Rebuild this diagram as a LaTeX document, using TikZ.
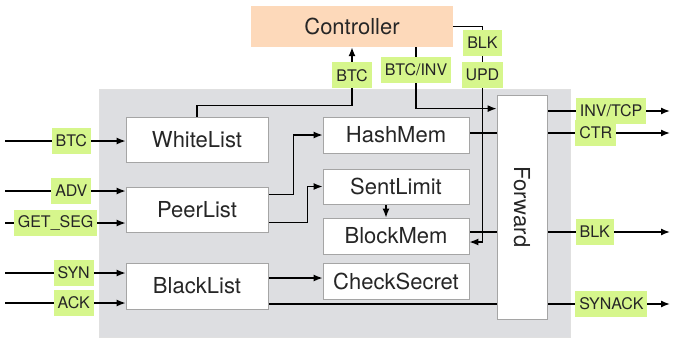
\documentclass[tikz,border=0pt]{standalone}
\usepackage{fontspec}
\setmainfont{TeX Gyre Heros}
\usetikzlibrary{arrows.meta}
\pgfdeclarelayer{background}
\pgfsetlayers{background,main}
\definecolor{panelgray}{RGB}{221,222,225}
\definecolor{boxline}{RGB}{165,165,165}
\definecolor{ctrlfill}{RGB}{253,217,186}
\definecolor{taggreen}{RGB}{214,246,140}
\tikzset{
  block/.style={draw=boxline,fill=white,line width=0.8pt,inner sep=0pt,
    text=black!85,font=\fontsize{22}{25}\selectfont},
  tag/.style={fill=taggreen,inner xsep=4pt,inner ysep=0pt,minimum height=26pt,
    text=black!85,font=\fontsize{16}{18}\selectfont},
  arr/.style={-{Latex[length=9pt,width=7pt]},line width=1.4pt},
  wire/.style={line width=1.4pt}
}
\begin{document}
\begin{tikzpicture}[x=1pt,y=-1pt]
  \useasboundingbox (0,0) rectangle (673,341);

  \node[fill=ctrlfill,minimum width=202pt,minimum height=41pt,inner sep=0pt,
    text=black!85,font=\fontsize{22}{25}\selectfont] (Controller) at (352,26.5) {Controller};

  \node[block,minimum width=142pt,minimum height=45pt] (WhiteList) at (197,139.5) {WhiteList};
  \node[block,minimum width=142pt,minimum height=45pt] (PeerList) at (197,209.5) {PeerList};
  \node[block,minimum width=142pt,minimum height=46pt] (BlackList) at (197,286) {BlackList};

  \node[block,minimum width=146pt,minimum height=36pt] (HashMem) at (396,135) {HashMem};
  \node[block,minimum width=146pt,minimum height=35pt] (SentLimit) at (396,186.5) {SentLimit};
  \node[block,minimum width=146pt,minimum height=36pt] (BlockMem) at (396,236) {BlockMem};
  \node[block,minimum width=146pt,minimum height=36pt] (CheckSecret) at (396,281) {CheckSecret};

  \node[block,minimum width=50pt,minimum height=224pt] (Forward) at (522,207) {\rotatebox{-90}{Forward}};

  % free ends of the inputs and outputs
  \coordinate (inBTC) at (5,141);
  \coordinate (inADV) at (5,191);
  \coordinate (inGET) at (5,223);
  \coordinate (inSYN) at (5,273);
  \coordinate (inACK) at (5,303);
  \coordinate (outINV) at (670,111);
  \coordinate (outCTR) at (670,133);
  \coordinate (outBLK) at (670,232);
  \coordinate (outSYNACK) at (670,304);

  \begin{pgfonlayer}{background}
    \fill[panelgray,draw=black!12] (99,89) rectangle (570,337);

    % inputs
    \draw[arr] (inBTC) -- node[tag,pos=0.55] {BTC} (WhiteList.west |- inBTC);
    \draw[arr] (inADV) -- node[tag,pos=0.55] {ADV} (PeerList.west |- inADV);
    \draw[arr] (inGET) -- node[tag,pos=0.42] {GET\_SEG} (PeerList.west |- inGET);
    \draw[arr] (inSYN) -- node[tag,pos=0.57] {SYN} (BlackList.west |- inSYN);
    \draw[arr] (inACK) -- node[tag,pos=0.57] {ACK} (BlackList.west |- inACK);

    % controller links
    \draw[arr] (WhiteList.north) -- ++(0,-11) -| node[tag,pos=0.76] {BTC} (Controller.south);
    \draw[arr] ([xshift=64pt]Controller.south) |- node[tag,pos=0.185] {BTC/INV}
      ([yshift=-14pt]Forward.north west);
    \draw[arr] (Controller.east) -| node[tag,pos=0.538] {BLK} node[tag,pos=0.6125] {UPD}
      ([xshift=13pt,yshift=-6pt]BlockMem.east) -- ([yshift=-6pt]BlockMem.east);

    % internal links
    \draw[arr] ([yshift=15pt]PeerList.east) -- ++(25,0) |- (HashMem.west);
    \draw[arr] ([yshift=-13pt]PeerList.east) -- ++(39,0) |- (SentLimit.west);
    \draw[arr] ([xshift=-10pt]SentLimit.south) -- ([xshift=-10pt]BlockMem.north);
    \draw[arr] ([yshift=8pt]BlackList.east) -- ([yshift=8pt]BlackList.east -| CheckSecret.west);

    % outputs
    \draw[arr] (Forward.east |- outINV) -- node[tag,pos=0.52] {INV/TCP} (outINV);
    \draw[arr] (HashMem.east |- outCTR) -- node[tag,pos=0.63] {CTR} (outCTR);
    \draw[arr] (BlockMem.east |- outBLK) -- node[tag,pos=0.625] {BLK} (outBLK);
    \draw[arr] (BlackList.east |- outSYNACK) -- node[tag,pos=0.854] {SYNACK} (outSYNACK);
  \end{pgfonlayer}
\end{tikzpicture}
\end{document}
